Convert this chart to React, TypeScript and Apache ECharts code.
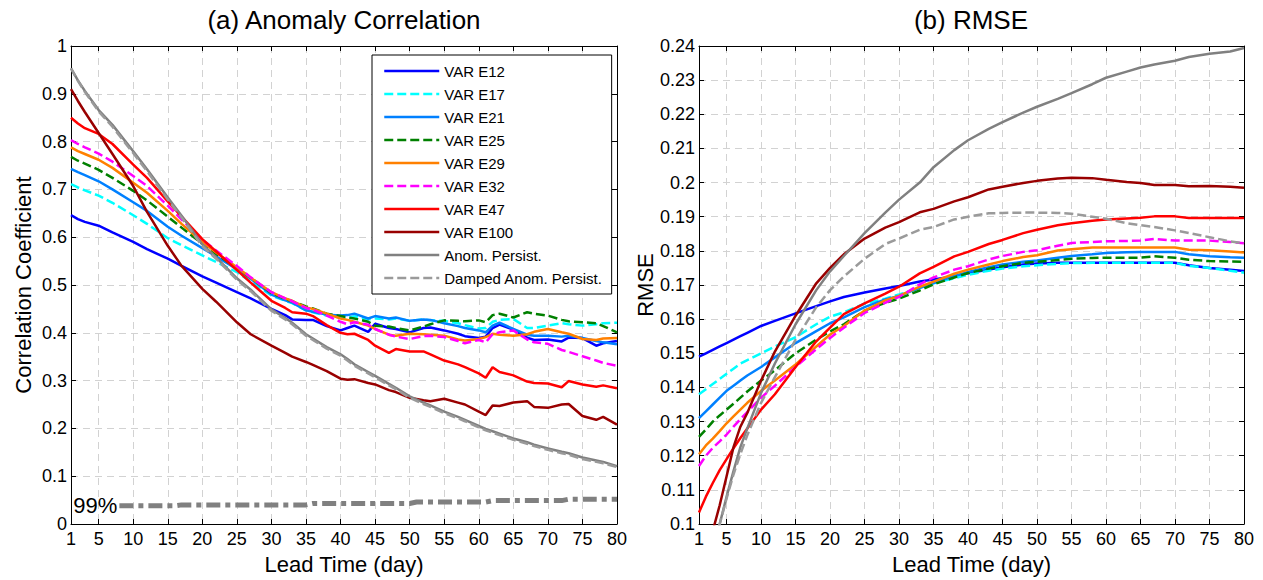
import React, { useEffect, useRef } from "react";
import * as echarts from "echarts";

const FONT = "'Liberation Sans', Arial, Helvetica, sans-serif";

// x-axis tick labels (both panels)
const xTicks = [1, 5, 10, 15, 20, 25, 30, 35, 40, 45, 50, 55, 60, 65, 70, 75, 80];

const seriesNames = [
  "VAR E12", "VAR E17", "VAR E21", "VAR E25", "VAR E29",
  "VAR E32", "VAR E47", "VAR E100", "Anom. Persist.", "Damped Anom. Persist.",
];

// ---------- (a) Anomaly Correlation ----------
const acDays = [1, 2, 3, 5, 7, 10, 12, 15, 17, 20, 22, 25, 27, 30, 32, 33, 35, 36, 38, 40, 41, 42, 44, 45, 47, 48, 50, 52, 53, 55, 57, 58, 60, 61, 62, 63, 65, 67, 68, 70, 72, 73, 75, 77, 78, 80];
const acE12 = [0.646, 0.638, 0.632, 0.624, 0.61, 0.59, 0.575, 0.555, 0.54, 0.518, 0.505, 0.485, 0.472, 0.45, 0.437, 0.428, 0.427, 0.427, 0.414, 0.405, 0.41, 0.415, 0.402, 0.419, 0.41, 0.408, 0.401, 0.41, 0.411, 0.405, 0.398, 0.393, 0.389, 0.392, 0.41, 0.417, 0.407, 0.39, 0.385, 0.386, 0.382, 0.39, 0.389, 0.373, 0.378, 0.383];
const acE17 = [0.711, 0.704, 0.698, 0.687, 0.672, 0.646, 0.628, 0.598, 0.583, 0.562, 0.548, 0.527, 0.507, 0.478, 0.467, 0.462, 0.447, 0.443, 0.436, 0.432, 0.43, 0.435, 0.428, 0.43, 0.428, 0.43, 0.425, 0.428, 0.426, 0.425, 0.42, 0.416, 0.409, 0.41, 0.423, 0.427, 0.429, 0.41, 0.41, 0.415, 0.42, 0.418, 0.415, 0.418, 0.42, 0.421];
const acE21 = [0.743, 0.736, 0.73, 0.717, 0.7, 0.673, 0.655, 0.622, 0.603, 0.577, 0.56, 0.533, 0.513, 0.48, 0.468, 0.463, 0.447, 0.444, 0.438, 0.436, 0.437, 0.44, 0.43, 0.435, 0.43, 0.432, 0.425, 0.428, 0.427, 0.42, 0.414, 0.41, 0.405, 0.401, 0.415, 0.421, 0.408, 0.396, 0.394, 0.394, 0.392, 0.394, 0.389, 0.383, 0.38, 0.376];
const acE25 = [0.768, 0.76, 0.754, 0.741, 0.724, 0.697, 0.677, 0.643, 0.62, 0.586, 0.565, 0.535, 0.515, 0.483, 0.471, 0.466, 0.455, 0.451, 0.44, 0.435, 0.432, 0.43, 0.423, 0.415, 0.413, 0.41, 0.405, 0.413, 0.418, 0.426, 0.425, 0.424, 0.426, 0.422, 0.437, 0.44, 0.432, 0.443, 0.44, 0.436, 0.427, 0.424, 0.422, 0.42, 0.414, 0.401];
const acE29 = [0.788, 0.78, 0.774, 0.762, 0.745, 0.714, 0.693, 0.655, 0.628, 0.59, 0.568, 0.537, 0.515, 0.485, 0.472, 0.467, 0.453, 0.45, 0.44, 0.43, 0.427, 0.423, 0.415, 0.408, 0.396, 0.394, 0.398, 0.397, 0.396, 0.394, 0.386, 0.384, 0.387, 0.391, 0.398, 0.396, 0.394, 0.397, 0.402, 0.408, 0.401, 0.398, 0.387, 0.385, 0.388, 0.389];
const acE32 = [0.803, 0.795, 0.788, 0.775, 0.758, 0.728, 0.707, 0.666, 0.637, 0.595, 0.572, 0.54, 0.516, 0.485, 0.472, 0.466, 0.452, 0.448, 0.436, 0.423, 0.418, 0.422, 0.417, 0.408, 0.396, 0.392, 0.387, 0.393, 0.394, 0.391, 0.383, 0.378, 0.385, 0.38, 0.397, 0.401, 0.405, 0.386, 0.38, 0.377, 0.364, 0.36, 0.351, 0.342, 0.337, 0.331];
const acE47 = [0.85, 0.838, 0.828, 0.816, 0.795, 0.752, 0.724, 0.675, 0.643, 0.596, 0.57, 0.531, 0.505, 0.467, 0.452, 0.443, 0.44, 0.435, 0.416, 0.4, 0.397, 0.398, 0.385, 0.373, 0.358, 0.366, 0.361, 0.361, 0.355, 0.342, 0.334, 0.328, 0.315, 0.306, 0.328, 0.318, 0.311, 0.298, 0.295, 0.294, 0.286, 0.299, 0.292, 0.287, 0.29, 0.284];
const acE100 = [0.91, 0.885, 0.862, 0.818, 0.774, 0.707, 0.653, 0.582, 0.54, 0.492, 0.465, 0.422, 0.397, 0.373, 0.358, 0.35, 0.339, 0.333, 0.32, 0.304, 0.302, 0.303, 0.295, 0.292, 0.28, 0.276, 0.264, 0.259, 0.257, 0.262, 0.254, 0.25, 0.235, 0.228, 0.248, 0.247, 0.254, 0.257, 0.245, 0.243, 0.25, 0.251, 0.226, 0.218, 0.224, 0.208];
const acPersist = [0.953, 0.928, 0.906, 0.866, 0.835, 0.78, 0.742, 0.683, 0.645, 0.585, 0.558, 0.514, 0.49, 0.449, 0.431, 0.421, 0.397, 0.388, 0.37, 0.355, 0.345, 0.334, 0.318, 0.31, 0.293, 0.285, 0.267, 0.254, 0.248, 0.235, 0.224, 0.218, 0.205, 0.199, 0.194, 0.189, 0.179, 0.171, 0.166, 0.158, 0.151, 0.148, 0.139, 0.133, 0.13, 0.121];
const acDamped = [0.953, 0.927, 0.904, 0.863, 0.831, 0.776, 0.738, 0.679, 0.641, 0.581, 0.555, 0.511, 0.487, 0.446, 0.428, 0.418, 0.394, 0.385, 0.367, 0.352, 0.342, 0.331, 0.315, 0.307, 0.29, 0.282, 0.264, 0.251, 0.245, 0.232, 0.221, 0.215, 0.202, 0.196, 0.191, 0.186, 0.176, 0.168, 0.163, 0.155, 0.148, 0.145, 0.136, 0.13, 0.127, 0.119];

// 99% significance level
const sig99Label = "99%";
const sig99Days = [8, 16, 17, 35, 36, 50, 51, 61, 62, 72, 73, 80];
const sig99Vals = [0.038, 0.038, 0.04, 0.04, 0.043, 0.043, 0.046, 0.046, 0.049, 0.049, 0.052, 0.052];

// ---------- (b) RMSE ----------
const rmDays = [1, 2, 3, 4, 5, 6, 7, 8, 10, 12, 15, 18, 20, 22, 25, 28, 30, 33, 35, 38, 40, 43, 45, 48, 50, 53, 55, 58, 60, 63, 65, 67, 70, 72, 75, 78, 80];
const rmE12 = [0.149, 0.15, 0.151, 0.152, 0.153, 0.154, 0.155, 0.156, 0.158, 0.1595, 0.1617, 0.1638, 0.1652, 0.1665, 0.1678, 0.169, 0.1697, 0.171, 0.1716, 0.1726, 0.1734, 0.1745, 0.1752, 0.176, 0.1763, 0.1765, 0.1765, 0.1765, 0.1765, 0.1765, 0.1765, 0.1765, 0.1765, 0.1758, 0.175, 0.1745, 0.1741];
const rmE17 = [0.138, 0.1395, 0.141, 0.1425, 0.144, 0.1455, 0.147, 0.148, 0.15, 0.152, 0.1547, 0.1585, 0.1607, 0.162, 0.1645, 0.166, 0.1672, 0.1692, 0.1705, 0.172, 0.173, 0.1742, 0.1748, 0.1755, 0.1758, 0.1762, 0.1764, 0.1765, 0.1765, 0.1765, 0.1765, 0.1765, 0.1765, 0.1756, 0.175, 0.1742, 0.1736];
const rmE21 = [0.131, 0.133, 0.135, 0.137, 0.139, 0.1405, 0.142, 0.1435, 0.146, 0.1488, 0.153, 0.1565, 0.1588, 0.1605, 0.1635, 0.1658, 0.1668, 0.1692, 0.1706, 0.1726, 0.1738, 0.1752, 0.176, 0.1768, 0.1772, 0.178, 0.1785, 0.179, 0.1794, 0.1796, 0.1797, 0.1797, 0.1797, 0.179, 0.1784, 0.1781, 0.178];
const rmE25 = [0.1255, 0.1277, 0.13, 0.1318, 0.1335, 0.1352, 0.137, 0.1388, 0.142, 0.145, 0.15, 0.154, 0.1564, 0.1585, 0.1625, 0.1648, 0.166, 0.1684, 0.1702, 0.1722, 0.1735, 0.1748, 0.1755, 0.1765, 0.1768, 0.1773, 0.1777, 0.1779, 0.178, 0.178, 0.178, 0.1784, 0.178, 0.1774, 0.177, 0.1769, 0.1768];
const rmE29 = [0.1204, 0.123, 0.125, 0.1272, 0.1295, 0.1315, 0.1335, 0.1355, 0.139, 0.142, 0.1467, 0.152, 0.1555, 0.158, 0.1625, 0.1655, 0.1668, 0.1695, 0.171, 0.1733, 0.1745, 0.176, 0.177, 0.1782, 0.1787, 0.1801, 0.1805, 0.181, 0.181, 0.181, 0.181, 0.181, 0.181, 0.1803, 0.1802, 0.1798, 0.1795];
const rmE32 = [0.117, 0.12, 0.1223, 0.1242, 0.1262, 0.1285, 0.1307, 0.1328, 0.137, 0.1405, 0.146, 0.1512, 0.1545, 0.1575, 0.1618, 0.1648, 0.1665, 0.1702, 0.1722, 0.1745, 0.1755, 0.1775, 0.1785, 0.1797, 0.1802, 0.1815, 0.1823, 0.1826, 0.1828, 0.1829, 0.183, 0.1835, 0.183, 0.183, 0.183, 0.1826, 0.1822];
const rmE47 = [0.1034, 0.108, 0.112, 0.1158, 0.119, 0.1222, 0.1252, 0.128, 0.1335, 0.138, 0.146, 0.1535, 0.1575, 0.1615, 0.1646, 0.1675, 0.1695, 0.1734, 0.1753, 0.1784, 0.1797, 0.182, 0.1832, 0.1852, 0.1862, 0.1875, 0.1881, 0.1888, 0.1892, 0.1895, 0.1897, 0.1901, 0.1901, 0.1896, 0.1896, 0.1896, 0.1896];
const rmE100 = [0.083, 0.0915, 0.098, 0.1055, 0.114, 0.1225, 0.1285, 0.1325, 0.142, 0.1505, 0.161, 0.1705, 0.175, 0.179, 0.1836, 0.1868, 0.1884, 0.1913, 0.1923, 0.1945, 0.1957, 0.198, 0.1988, 0.1999, 0.2005, 0.2012, 0.2014, 0.2013, 0.2008, 0.2002, 0.1999, 0.1993, 0.1993, 0.1989, 0.199, 0.1988, 0.1985];
const rmPersist = [0.076, 0.084, 0.092, 0.1, 0.108, 0.1155, 0.1225, 0.128, 0.1384, 0.147, 0.1585, 0.1685, 0.174, 0.1785, 0.1852, 0.1912, 0.195, 0.2, 0.2045, 0.2095, 0.2124, 0.2157, 0.2177, 0.2205, 0.2222, 0.2245, 0.2262, 0.2288, 0.2307, 0.2325, 0.2337, 0.2346, 0.2357, 0.2368, 0.2377, 0.2384, 0.2394];
const rmDamped = [0.077, 0.085, 0.093, 0.1, 0.1075, 0.1145, 0.1205, 0.126, 0.1355, 0.143, 0.154, 0.1635, 0.1685, 0.1725, 0.1777, 0.182, 0.1836, 0.1862, 0.187, 0.1892, 0.19, 0.191, 0.1911, 0.1912, 0.1912, 0.1911, 0.1909, 0.19, 0.1894, 0.1881, 0.1875, 0.187, 0.186, 0.1852, 0.184, 0.1828, 0.1822];

const acValues = [acE12, acE17, acE21, acE25, acE29, acE32, acE47, acE100, acPersist, acDamped];
const rmValues = [rmE12, rmE17, rmE21, rmE25, rmE29, rmE32, rmE47, rmE100, rmPersist, rmDamped];

// styles
const colors = ["#0000ff", "#00ffff", "#0080ff", "#008000", "#ff8000", "#ff00ff", "#ff0000", "#990000", "#808080", "#9a9a9a"];
const dashed = [false, true, false, true, false, true, false, false, false, true];

const pairs = (days: number[], vals: number[]) => days.map((d, i) => [d, vals[i]]);

const gridLine = { color: "#d2d2d2", width: 1, type: [7, 5] as number[] };

function makeX(gridIndex: number, position: "bottom" | "top") {
  const main = position === "bottom";
  return {
    type: "value",
    gridIndex,
    position,
    min: 1,
    max: 80,
    interval: 5,
    name: main ? "Lead Time (day)" : "",
    nameLocation: "middle",
    nameGap: 29,
    nameTextStyle: { fontSize: 22, color: "#000", fontFamily: FONT },
    axisLine: { show: true, onZero: false, lineStyle: { color: "#000", width: 1 } },
    axisTick: { show: true, inside: true, length: 5, customValues: xTicks, lineStyle: { color: "#000" } },
    axisLabel: { show: main, customValues: xTicks, fontSize: 18, color: "#000", fontFamily: FONT, margin: 6 },
    splitLine: { show: main, lineStyle: gridLine },
  };
}

function makeY(gridIndex: number, position: "left" | "right", min: number, max: number, interval: number, name: string, nameGap: number) {
  const main = position === "left";
  return {
    type: "value",
    gridIndex,
    position,
    min,
    max,
    interval,
    name: main ? name : "",
    nameLocation: "middle",
    nameGap,
    nameTextStyle: { fontSize: 22, color: "#000", fontFamily: FONT },
    axisLine: { show: true, onZero: false, lineStyle: { color: "#000", width: 1 } },
    axisTick: { show: true, inside: true, length: 5, lineStyle: { color: "#000" } },
    axisLabel: { show: main, fontSize: 18, color: "#000", fontFamily: FONT, margin: 4 },
    splitLine: { show: main, lineStyle: gridLine },
  };
}

export default function App() {
  const ref = useRef<HTMLDivElement>(null);

  useEffect(() => {
    if (!ref.current) return;
    const chart = echarts.init(ref.current, undefined, { renderer: "svg" });

    const series: any[] = [];
    seriesNames.forEach((name, i) => {
      const lineStyle = { color: colors[i], width: 2.5, type: dashed[i] ? [9, 4] : "solid" };
      series.push({
        name, type: "line", xAxisIndex: 0, yAxisIndex: 0, symbol: "none", data: pairs(acDays, acValues[i]),
        lineStyle, itemStyle: { color: colors[i] }, z: 3 + i,
      });
      series.push({
        name, type: "line", xAxisIndex: 2, yAxisIndex: 2, symbol: "none", data: pairs(rmDays, rmValues[i]),
        lineStyle, itemStyle: { color: colors[i] }, z: 3 + i, clip: true,
      });
    });
    series.push({
      name: "99%", type: "line", xAxisIndex: 0, yAxisIndex: 0, symbol: "none", data: pairs(sig99Days, sig99Vals),
      lineStyle: { color: "#808080", width: 5, type: [14, 5, 5, 5] }, itemStyle: { color: "#808080" }, z: 2,
    });

    chart.setOption({
      animation: false,
      backgroundColor: "#ffffff",
      textStyle: { fontFamily: FONT },
      grid: [
        { left: 71, top: 46, width: 546, height: 480, containLabel: false },
        { left: 699, top: 46, width: 545, height: 479, containLabel: false },
      ],
      legend: {
        data: seriesNames,
        orient: "vertical",
        left: 372,
        top: 55,
        padding: [8, 9, 8, 11],
        itemGap: 7,
        itemWidth: 55,
        itemHeight: 12,
        borderColor: "#000",
        borderWidth: 1,
        backgroundColor: "#fff",
        itemStyle: { opacity: 0 },
        lineStyle: { width: 2.5 },
        textStyle: { fontSize: 15, lineHeight: 16, color: "#000", fontFamily: FONT },
        selectedMode: false,
      },
      xAxis: [makeX(0, "bottom"), makeX(0, "top"), makeX(1, "bottom"), makeX(1, "top")],
      yAxis: [
        makeY(0, "left", 0, 1, 0.1, "Correlation Coefficient", 37),
        makeY(0, "right", 0, 1, 0.1, "", 0),
        makeY(1, "left", 0.1, 0.24, 0.01, "RMSE", 39),
        makeY(1, "right", 0.1, 0.24, 0.01, "", 0),
      ],
      series,
    });

    // 99% label anchored at the first point of the significance line
    const p = chart.convertToPixel({ xAxisIndex: 0, yAxisIndex: 0 }, [sig99Days[0], sig99Vals[0]]) as number[];
    chart.setOption({
      graphic: [
        { type: "text", x: 344, y: 20, style: { text: "(a) Anomaly Correlation", fontSize: 26, fontFamily: FONT, fill: "#000", align: "center", verticalAlign: "middle" } },
        { type: "text", x: 971, y: 20, style: { text: "(b) RMSE", fontSize: 26, fontFamily: FONT, fill: "#000", align: "center", verticalAlign: "middle" } },
        { type: "text", x: p[0] - 2, y: p[1], style: { text: sig99Label, fontSize: 22, fontFamily: FONT, fill: "#000", align: "right", verticalAlign: "middle" } },
      ],
    });

    return () => chart.dispose();
  }, []);

  return <div ref={ref} style={{ position: "absolute", left: 0, top: 0, width: 1263, height: 580 }} />;
}
